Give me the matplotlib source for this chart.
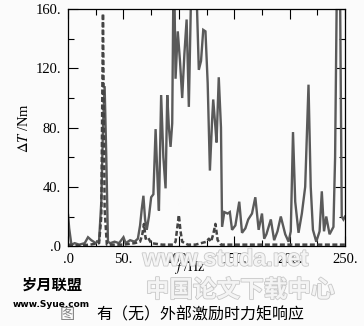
import matplotlib.pyplot as plt
import matplotlib.patheffects as pe
from matplotlib.ticker import MultipleLocator, FixedFormatter, FixedLocator

plt.rcParams['font.family'] = ['Liberation Serif', 'Noto Sans CJK SC', 'DejaVu Sans']
plt.rcParams['mathtext.fontset'] = 'stix'

# 有外部激励 (实线)
f_with = [0, 1, 3, 6, 10, 15, 18, 21, 25, 28, 30, 31.5, 33, 34.5, 36, 38, 42, 46, 50, 52,
          56, 60, 63, 65, 66.5, 68, 69.5, 71, 73, 75, 77, 79, 81, 82, 84, 86, 88, 89.5, 91,
          92.5, 94, 95, 96, 97, 99, 101, 103, 105, 107, 109, 111, 113, 116, 118, 120, 122,
          124, 126, 128, 130, 131, 133, 134, 136, 138, 139, 141, 144, 146, 148, 151, 154.5,
          157, 160, 162.6, 166, 169, 172, 175, 177, 179, 183, 186, 189, 192, 196, 199, 201,
          203, 205, 208, 211, 214, 217, 219, 221, 224, 227, 229, 231, 233, 236, 239.5, 241,
          242.5, 245.5, 247, 248.5, 250]
t_with = [21, 12, 1, 2, 1, 2, 6, 4, 2, 4, 30, 80, 108, 60, 3, 2, 3, 2, 6, 2,
          4, 3, 5, 14, 25, 34, 18, 11, 20, 33, 35, 79, 40, 24, 102, 60, 39, 102, 80,
          67, 83, 170, 170, 113, 145, 125, 100, 130, 153, 94, 170, 170, 170, 119, 125, 146,
          145, 110, 51, 85, 99, 80, 70, 114, 80, 13, 23, 22, 23, 11, 14, 30,
          9, 12, 18, 22, 33, 11, 22, 5, 8, 18, 4, 10, 20, 8, 3, 10,
          77, 30, 9, 22, 40, 109, 40, 11, 3, 10, 37, 10, 20, 8, 13, 60,
          170, 170, 20, 18, 20]

# 无外部激励 (虚线)
f_without = [0, 10, 20, 28, 30, 31.5, 33, 35, 50, 60, 65, 67, 68.5, 70, 72, 75, 85, 95, 97,
             98.5, 100, 101.5, 103, 108, 115, 120, 125, 127, 129, 131, 133, 135, 138, 150,
             170, 200, 250]
t_without = [1, 0.5, 1, 2, 20, 157, 25, 1, 1, 2, 3, 8, 15, 5, 6, 2, 1, 1, 3,
             12, 21, 10, 3, 1, 1, 2, 3, 5, 3, 8, 15, 4, 1, 1,
             1, 1, 1]

x_ticks = [0, 50, 100, 150, 200, 250]
x_labels = ['.0', '50.', '100.', '150.', '200.', '250.']
y_ticks = [0, 40, 80, 120, 160]
y_labels = ['.0', '40.', '80.', '120.', '160.']

fig = plt.figure(figsize=(3.64, 3.26), dpi=100)
fig.patch.set_facecolor('#fbfbfb')
ax = fig.add_axes([0.187, 0.245, 0.761, 0.727])
ax.set_facecolor('#fbfbfb')

ax.plot(f_with, t_with, color='#5a5a5a', lw=1.7, solid_joinstyle='miter')
ax.plot(f_without, t_without, color='#444444', lw=1.8, dashes=(2, 1))

ax.set_xlim(0, 250)
ax.set_ylim(0, 160)
ax.xaxis.set_major_locator(FixedLocator(x_ticks))
ax.xaxis.set_major_formatter(FixedFormatter(x_labels))
ax.yaxis.set_major_locator(FixedLocator(y_ticks))
ax.yaxis.set_major_formatter(FixedFormatter(y_labels))
ax.xaxis.set_minor_locator(MultipleLocator(25))
ax.yaxis.set_minor_locator(MultipleLocator(20))
ax.tick_params(which='both', direction='in', top=True, right=True, labelsize=10.5, width=0.8)
ax.tick_params(which='major', length=7, pad=5)
ax.tick_params(which='minor', length=4)
for s in ax.spines.values():
    s.set_linewidth(0.9)

ax.set_ylabel(r'$\Delta T$ /Nm', fontsize=10.5, labelpad=3)
fig.text(0.52, 0.18, r'$f$ /Hz', fontsize=10, ha='center', va='center')

# 水印 (空心字)
hollow = [pe.withStroke(linewidth=1.2, foreground='#c8c8c8')]
t1 = fig.text(0.62, 0.205, 'www.studa.net', fontsize=17, color='#f4f4f4', ha='center',
              va='center', fontweight='bold', family=['Liberation Sans', 'DejaVu Sans'])
t1.set_path_effects(hollow)
t2 = fig.text(0.66, 0.11, '中国论文下载中心', fontsize=17, color='#f4f4f4', ha='center',
              va='center', fontweight='bold', family=['Noto Sans CJK SC'])
t2.set_path_effects(hollow)

fig.text(0.145, 0.128, '岁月联盟', fontsize=11, color='black', ha='center', va='center',
         fontweight='bold', family=['Noto Sans CJK SC'])
fig.text(0.14, 0.066, 'www.Syue.com', fontsize=6.5, color='black', ha='center', va='center',
         fontweight='bold', family=['DejaVu Sans'])

fig.text(0.165, 0.035, '图', fontsize=11, color='#888888', ha='left', va='center',
         family=['Noto Sans CJK SC'])
fig.text(0.55, 0.035, '有（无）外部激励时力矩响应', fontsize=11.5, ha='center', va='center',
         family=['Noto Sans CJK SC'])

fig.savefig('out.png', dpi=100, facecolor=fig.get_facecolor())
